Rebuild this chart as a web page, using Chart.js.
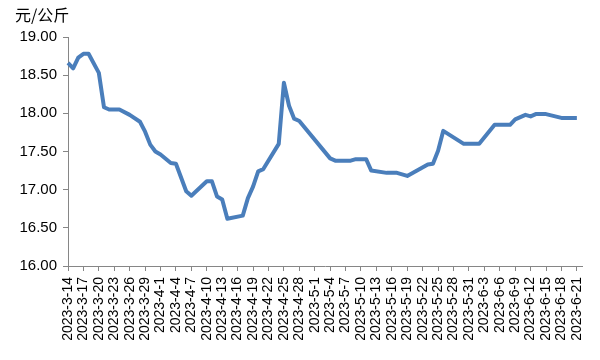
<!DOCTYPE html>
<html>
<head>
<meta charset="utf-8">
<script src="https://cdn.jsdelivr.net/npm/chart.js@4/dist/chart.umd.min.js"></script>
<style>
  html, body { margin: 0; padding: 0; background: #fff; }
  #wrap { position: relative; width: 600px; height: 360px; }
</style>
</head>
<body>
<div id="wrap"><canvas id="priceChart" width="600" height="360"></canvas></div>
<script>
const unitLabel = "元/公斤";
const startDate = [2023, 3, 14];
const endDate = [2023, 6, 22];

// price readings (only days where the line bends)
const pointDates = [
  "2023-3-14", "2023-3-15", "2023-3-16", "2023-3-17", "2023-3-18", "2023-3-20",
  "2023-3-21", "2023-3-22", "2023-3-24", "2023-3-26", "2023-3-28", "2023-3-29",
  "2023-3-30", "2023-3-31", "2023-4-1", "2023-4-3", "2023-4-4", "2023-4-6",
  "2023-4-7", "2023-4-10", "2023-4-11", "2023-4-12", "2023-4-13", "2023-4-14",
  "2023-4-17", "2023-4-18", "2023-4-19", "2023-4-20", "2023-4-21", "2023-4-24",
  "2023-4-25", "2023-4-26", "2023-4-27", "2023-4-28", "2023-5-4", "2023-5-5",
  "2023-5-8", "2023-5-9", "2023-5-11", "2023-5-12", "2023-5-15", "2023-5-17",
  "2023-5-19", "2023-5-23", "2023-5-24", "2023-5-25", "2023-5-26", "2023-5-30",
  "2023-6-2", "2023-6-5", "2023-6-8", "2023-6-9", "2023-6-11", "2023-6-12",
  "2023-6-13", "2023-6-15", "2023-6-18", "2023-6-21",
];
const pointPrices = [
  18.66, 18.59, 18.73, 18.78, 18.78, 18.53,
  18.08, 18.05, 18.05, 17.98, 17.89, 17.76,
  17.59, 17.50, 17.46, 17.35, 17.34, 16.98,
  16.92, 17.11, 17.11, 16.91, 16.87, 16.62,
  16.66, 16.89, 17.04, 17.24, 17.27, 17.60,
  18.40, 18.10, 17.93, 17.90, 17.41, 17.38,
  17.38, 17.40, 17.40, 17.25, 17.22, 17.22,
  17.18, 17.33, 17.34, 17.51, 17.77, 17.60,
  17.60, 17.85, 17.85, 17.92, 17.98, 17.96,
  17.99, 17.99, 17.94, 17.94,
];

const yMin = 16;
const yMax = 19;
const yStep = 0.5;

// one category per calendar day
const dayLabels = [];
const d = new Date(startDate[0], startDate[1] - 1, startDate[2]);
const last = new Date(endDate[0], endDate[1] - 1, endDate[2]);
while (d <= last) {
  dayLabels.push(d.getFullYear() + "-" + (d.getMonth() + 1) + "-" + d.getDate());
  d.setDate(d.getDate() + 1);
}
const dayValues = dayLabels.map((lbl) => {
  const i = pointDates.indexOf(lbl);
  return i >= 0 ? pointPrices[i] : null;
});

const axisGray = "#868686";

const unitTitle = {
  id: "unitTitle",
  afterDraw(chart) {
    const ctx = chart.ctx;
    ctx.save();
    ctx.fillStyle = "#000";
    ctx.font = '16px "Noto Sans CJK SC", "Liberation Sans", sans-serif';
    ctx.textBaseline = "middle";
    ctx.fillText(unitLabel, 15, 15);
    ctx.restore();
  },
};

new Chart(document.getElementById("priceChart"), {
  type: "line",
  data: {
    labels: dayLabels,
    datasets: [
      {
        data: dayValues,
        borderColor: "#4a7ebb",
        borderWidth: 4,
        pointRadius: 0,
        tension: 0,
        spanGaps: true,
        borderJoinStyle: "round",
      },
    ],
  },
  options: {
    responsive: false,
    animation: false,
    layout: { padding: { top: 37, right: 18, left: 0, bottom: 0 } },
    plugins: { legend: { display: false }, tooltip: { enabled: false } },
    scales: {
      x: {
        type: "category",
        offset: false,
        afterBuildTicks: (axis) => {
          axis.ticks = axis.ticks.filter((t) => t.value % 3 === 0 && t.value < dayLabels.length - 1);
        },
        afterFit: (scale) => { scale.height = 94; },
        ticks: {
          autoSkip: false,
          maxRotation: 90,
          minRotation: 90,
          padding: 6,
          color: "#000",
          font: { family: '"Liberation Sans", Arial, sans-serif', size: 14 },
        },
        grid: { drawOnChartArea: false, drawTicks: true, tickLength: 5, color: axisGray },
        border: { display: true, color: axisGray, width: 1 },
      },
      y: {
        min: yMin,
        max: yMax,
        afterFit: (scale) => { scale.width = 68; },
        ticks: {
          stepSize: yStep,
          padding: 6,
          color: "#000",
          font: { family: '"Liberation Sans", Arial, sans-serif', size: 15 },
          callback: (v) => Number(v).toFixed(2),
        },
        grid: { drawOnChartArea: false, drawTicks: true, tickLength: 5, color: axisGray },
        border: { display: true, color: axisGray, width: 1 },
      },
    },
  },
  plugins: [unitTitle],
});
</script>
</body>
</html>
